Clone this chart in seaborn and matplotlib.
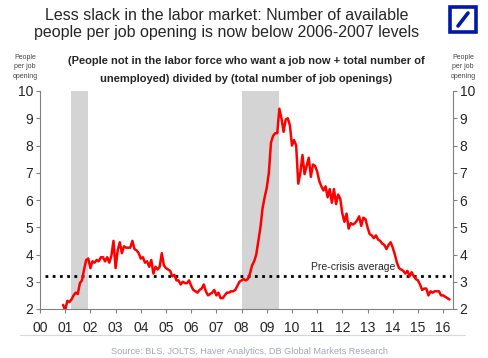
import numpy as np
import pandas as pd
import matplotlib
matplotlib.use("Agg")
import matplotlib.pyplot as plt
import seaborn as sns
from matplotlib.patches import Rectangle
from matplotlib.lines import Line2D

# monthly ratio, Dec 2000 .. Apr 2016
start_year = 2000 + 11 / 12
ratio = [
    2.15,
    1.95, 2.3, 2.25, 2.35, 2.5, 2.6, 2.55, 2.95, 3.05, 3.45, 3.8, 3.85,
    3.5, 3.75, 3.7, 3.8, 3.75, 3.9, 3.9, 3.75, 3.9, 3.7, 3.95, 4.5,
    3.5, 4.15, 4.45, 4.05, 4.3, 4.25, 4.25, 4.25, 4.5, 4.2, 4.15, 4.05,
    3.85, 3.9, 3.7, 3.75, 3.55, 3.8, 3.3, 3.55, 3.45, 3.55, 4.05, 3.6,
    3.5, 3.45, 3.4, 3.2, 3.25, 3.05, 3.05, 2.9, 3.0, 2.95, 2.95, 3.05,
    2.85, 2.7, 2.65, 2.6, 2.7, 2.75, 2.9, 2.65, 2.5, 2.55, 2.6, 2.7,
    2.5, 2.6, 2.4, 2.4, 2.5, 2.6, 2.6, 2.65, 2.65, 2.7, 2.85, 3.0,
    3.05, 3.1, 3.05, 3.1, 3.3, 3.6, 3.75, 4.0, 4.5, 5.0, 5.7, 6.1,
    6.45, 7.0, 8.1, 8.35, 8.45, 8.45, 9.35, 9.0, 8.5, 8.95, 9.0, 8.75,
    8.0, 8.2, 8.0, 6.6, 7.0, 7.65, 6.95, 7.25, 7.55, 6.85, 7.3, 7.25,
    7.05, 6.7, 6.5, 6.35, 6.5, 6.1, 6.4, 5.9, 6.4, 5.85, 6.2, 6.05,
    5.5, 5.2, 5.5, 4.95, 5.15, 5.1, 5.15, 5.25, 5.4, 5.05, 5.35, 5.3,
    5.0, 4.75, 4.7, 4.6, 4.7, 4.55, 4.5, 4.4, 4.35, 4.2, 4.35, 4.45,
    4.25, 4.0, 3.7, 3.5, 3.45, 3.4, 3.3, 3.4, 3.2, 3.35, 3.2, 3.1,
    3.05, 2.9, 2.7, 2.75, 2.75, 2.5, 2.65, 2.6, 2.65, 2.65, 2.65, 2.5,
    2.5, 2.45, 2.4, 2.35,
]
recessions = [(2001.25, 2001.9), (2008.0, 2009.48)]
pre_crisis_avg = 3.22
year_ticks = list(range(2000, 2017))
year_labels = [f"{y % 100:02d}" for y in year_ticks]
y_ticks = list(range(2, 11))

df = pd.DataFrame({
    "year": [start_year + i / 12 for i in range(len(ratio))],
    "ratio": ratio,
})

sns.set_style("white")
plt.rcParams["font.family"] = ["Liberation Sans", "DejaVu Sans"]

fig = plt.figure(figsize=(4.88, 3.58), dpi=100)
ax = fig.add_axes([40 / 488, 1 - 309 / 358, 412.7 / 488, 218 / 358])

for x0, x1 in recessions:
    ax.axvspan(x0, x1, color="#d4d4d4", lw=0, zorder=0)

ax.plot([2000.2, 2016.3], [pre_crisis_avg, pre_crisis_avg], color="black",
        lw=2, linestyle=(0, (1, 1.6)), zorder=2)
sns.lineplot(data=df, x="year", y="ratio", color="#ff0000", lw=1.8, ax=ax, zorder=3)
ax.text(2012.45, 3.36, "Pre-crisis average", ha="center", va="bottom", fontsize=7.5)

ax.set_xlim(2000, 2016.38)
ax.set_ylim(2, 10)
ax.set_xticks(year_ticks)
ax.set_xticklabels(year_labels)
ax.set_yticks(y_ticks)
ax.set_xlabel("")
ax.set_ylabel("")
ax.tick_params(axis="both", labelsize=10, length=3, width=0.8, color="#808080",
               direction="out", pad=2)
ax.tick_params(axis="x", pad=6)
ax.tick_params(axis="y", left=True)
ax.tick_params(axis="x", bottom=True)
for side in ["top", "right"]:
    ax.spines[side].set_visible(False)
for side in ["left", "bottom"]:
    ax.spines[side].set_color("#808080")
    ax.spines[side].set_linewidth(0.8)

ax2 = ax.twinx()
ax2.set_ylim(2, 10)
ax2.set_yticks(y_ticks)
ax2.tick_params(axis="y", labelsize=10, length=3, width=0.8, color="#808080",
                direction="out", pad=2, right=True)
for side in ["top", "left", "bottom"]:
    ax2.spines[side].set_visible(False)
ax2.spines["right"].set_color("#808080")
ax2.spines["right"].set_linewidth(0.8)

# titles
fig.text(227 / 488, 1 - 15 / 358, "Less slack in the labor market: Number of available",
         ha="center", va="center", fontsize=11.5)
fig.text(227 / 488, 1 - 33 / 358, "people per job opening is now below 2006-2007 levels",
         ha="center", va="center", fontsize=11.5)
fig.text(246 / 488, 1 - 61 / 358,
         "(People not in the labor force who want a job now + total number of",
         ha="center", va="center", fontsize=8, fontweight="bold")
fig.text(246 / 488, 1 - 79 / 358,
         "unemployed) divided by (total number of job openings)",
         ha="center", va="center", fontsize=8, fontweight="bold")
for xc in [25, 463]:
    fig.text(xc / 488, 1 - 67 / 358, "People\nper job\nopening", ha="center",
             va="center", fontsize=5, linespacing=1.5, color="#444444")

# logo
fig.patches.append(Rectangle((450 / 488, 1 - 32 / 358), 26 / 488, 25 / 358,
                             transform=fig.transFigure, fill=False,
                             edgecolor="#0018a8", lw=2.6))
fig.lines.append(Line2D([458 / 488, 468 / 488], [1 - 26 / 358, 1 - 13 / 358],
                        transform=fig.transFigure, color="#0018a8", lw=2.6))

# bottom rule and source
fig.lines.append(Line2D([20 / 488, 465 / 488], [1 - 335 / 358, 1 - 335 / 358],
                        transform=fig.transFigure, color="#d8d8d8", lw=0.8))
fig.text(250 / 488, 1 - 351 / 358,
         "Source: BLS, JOLTS, Haver Analytics, DB Global Markets Research",
         ha="center", va="center", fontsize=6.6, color="#a0a8b8")

fig.savefig("out.png", dpi=100)
